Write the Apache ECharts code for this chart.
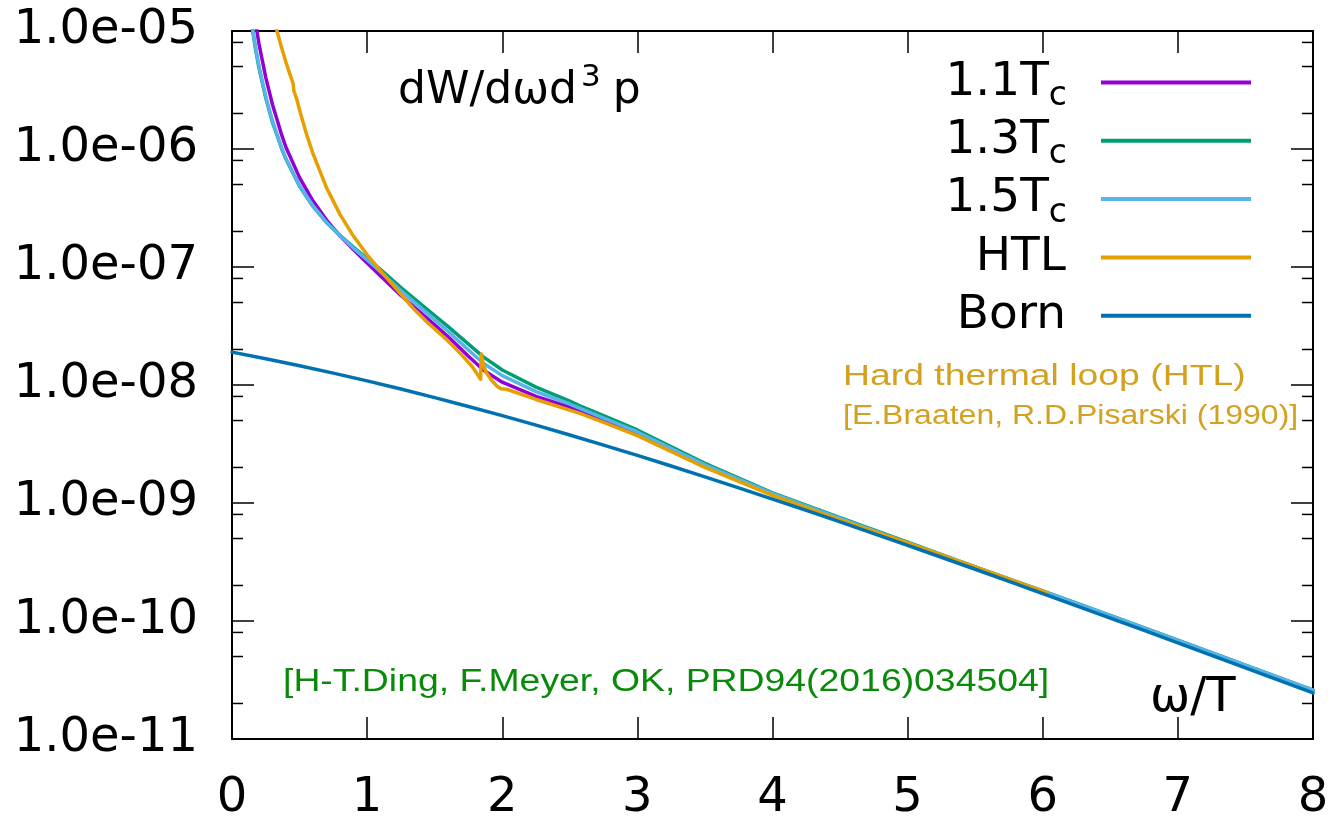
<!DOCTYPE html>
<html>
<head>
<meta charset="utf-8">
<script src="https://cdn.jsdelivr.net/npm/echarts@6/dist/echarts.min.js"></script>
<style>
  html, body { margin: 0; padding: 0; background: #fff; }
  #chart { width: 1339px; height: 817px; }
</style>
</head>
<body>
<div id="chart"></div>
<script>
// omega/T grid shared by the three lattice curves
const omegaLat = [0.15, 0.175, 0.2, 0.25, 0.3, 0.37, 0.4, 0.5, 0.6, 0.7, 0.8, 0.9, 1.0, 1.06, 1.1, 1.25, 1.5, 1.6, 1.75, 1.86, 2.0, 2.25, 2.5, 2.575, 2.75, 3.0, 3.5, 4.0, 4.5, 5.0, 5.5, 6.0, 6.5, 7.0, 7.5, 8.0];

// dilepton rate dW/dωd³p from the lattice spectral functions
const rate11 = [1.85e-5, 1.16e-5, 7.75e-6, 4.03e-6, 2.37e-6, 1.29e-6, 1.03e-6, 5.72e-7, 3.62e-7, 2.5e-7, 1.83e-7, 1.4e-7, 1.08e-7, 9.3e-8, 8.37e-8, 5.73e-8, 3.24e-8, 2.56e-8, 1.75e-8, 1.34e-8, 1.056e-8, 8.0e-9, 6.49e-9, 6.03e-9, 5.01e-9, 3.84e-9, 2.05e-9, 1.18e-9, 7.29e-10, 4.55e-10, 2.84e-10, 1.775e-10, 1.1e-10, 6.8e-11, 4.19e-11, 2.58e-11];
const rate13 = [1.057e-5, 6.95e-6, 4.85e-6, 2.7e-6, 1.68e-6, 9.9e-7, 8.18e-7, 4.84e-7, 3.26e-7, 2.38e-7, 1.85e-7, 1.47e-7, 1.18e-7, 1.04e-7, 9.5e-8, 6.68e-8, 3.88e-8, 3.12e-8, 2.22e-8, 1.73e-8, 1.34e-8, 9.6e-9, 7.31e-9, 6.67e-9, 5.49e-9, 4.16e-9, 2.17e-9, 1.22e-9, 7.51e-10, 4.65e-10, 2.88e-10, 1.8e-10, 1.115e-10, 6.87e-11, 4.22e-11, 2.6e-11];
const rate15 = [1.09e-5, 7.16e-6, 5.0e-6, 2.78e-6, 1.73e-6, 1.0e-6, 8.26e-7, 4.89e-7, 3.29e-7, 2.38e-7, 1.83e-7, 1.44e-7, 1.15e-7, 1.0e-7, 9.1e-8, 6.3e-8, 3.56e-8, 2.84e-8, 1.98e-8, 1.53e-8, 1.2e-8, 8.8e-9, 6.9e-9, 6.35e-9, 5.25e-9, 4.0e-9, 2.11e-9, 1.2e-9, 7.4e-10, 4.6e-10, 2.87e-10, 1.79e-10, 1.11e-10, 6.85e-11, 4.22e-11, 2.6e-11];

// hard thermal loop rate (own omega grid, with its structure near 0.46, 1.85 and 2)
const omegaHTL = [0.32, 0.333, 0.36, 0.4, 0.43, 0.452, 0.458, 0.481, 0.5, 0.55, 0.6, 0.7, 0.8, 0.9, 1.0, 1.1, 1.2, 1.342, 1.45, 1.589, 1.7, 1.78, 1.84, 1.845, 1.86, 1.88, 1.92, 1.96, 1.99, 2.033, 2.25, 2.575, 2.75, 3.0, 3.5, 4.0, 4.5, 5.0, 5.5, 6.03];
const rateHTL = [1.14e-5, 1.0e-5, 7.7e-6, 5.41e-6, 4.25e-6, 3.6e-6, 3.1e-6, 2.6e-6, 2.14e-6, 1.355e-6, 9.08e-7, 4.68e-7, 2.78e-7, 1.82e-7, 1.27e-7, 9.28e-8, 6.85e-8, 4.45e-8, 3.35e-8, 2.42e-8, 1.8e-8, 1.42e-8, 1.12e-8, 1.83e-8, 1.5e-8, 1.28e-8, 1.1e-8, 9.8e-9, 9.3e-9, 9.2e-9, 7.54e-9, 5.75e-9, 4.83e-9, 3.72e-9, 2.0e-9, 1.16e-9, 7.2e-10, 4.58e-10, 2.88e-10, 1.74e-10];

// free (Born) rate
const omegaBorn = [0, 0.25, 0.5, 0.75, 1.0, 1.25, 1.5, 1.75, 2.0, 2.25, 2.5, 2.75, 3.0, 3.25, 3.5, 3.75, 4.0, 4.25, 4.5, 4.75, 5.0, 5.25, 5.5, 5.75, 6.0, 6.25, 6.5, 6.75, 7.0, 7.25, 7.5, 7.75, 8.0];
const rateBorn = [1.9e-8, 1.67e-8, 1.457e-8, 1.261e-8, 1.083e-8, 9.24e-9, 7.82e-9, 6.58e-9, 5.5e-9, 4.565e-9, 3.77e-9, 3.095e-9, 2.53e-9, 2.057e-9, 1.666e-9, 1.344e-9, 1.08e-9, 8.65e-10, 6.91e-10, 5.5e-10, 4.37e-10, 3.468e-10, 2.745e-10, 2.168e-10, 1.709e-10, 1.346e-10, 1.059e-10, 8.32e-11, 6.53e-11, 5.12e-11, 4.01e-11, 3.142e-11, 2.46e-11];

// axes
const xTicks = [0, 1, 2, 3, 4, 5, 6, 7, 8];
const yDecades = [-11, -10, -9, -8, -7, -6, -5];
const minorMantissas = [2, 5, 8];

const seriesNames = ['1.1Tc', '1.3Tc', '1.5Tc', 'HTL', 'Born'];
const seriesColors = ['#9400d3', '#009e73', '#56b4e9', '#e69f00', '#0072b2'];

const zip = (xs, ys) => xs.map((x, i) => [x, ys[i]]);

const minorTicks = [];
yDecades.slice(0, -1).forEach(e => minorMantissas.forEach(m => minorTicks.push([0, m * Math.pow(10, e)])));

const FONT = 'DejaVu Sans';
const axisLineStyle = { color: '#000', width: 2 };
const tickStyle = { color: '#000', width: 1.5 };

const lineSeries = (name, color, data) => ({
  name, type: 'line', data, showSymbol: false, symbol: 'none',
  lineStyle: { color, width: 3.5, join: 'round', cap: 'round' }, itemStyle: { color }, clip: true,
  animation: false, z: 3
});

// every legend row carries a subscript-height token so all rows share one height
const legendLabels = {
  '1.1Tc': '{m|1.1T}{s|c}{sp| }',
  '1.3Tc': '{m|1.3T}{s|c}{sp| }',
  '1.5Tc': '{m|1.5T}{s|c}{sp| }',
  'HTL': '{m|HTL}{z| }{sp| }',
  'Born': '{m|Born}{z| }{sp| }'
};

const chart = echarts.init(document.getElementById('chart'), null, { renderer: 'canvas' });

chart.setOption({
  animation: false,
  backgroundColor: '#fff',
  grid: { left: 232, right: 26, top: 31, bottom: 78, containLabel: false, outerBoundsMode: 'none' },
  title: {
    text: '{a|dW/dωd}{b|3}{a|p}',
    left: 393, top: 57,
    textStyle: {
      fontWeight: 'normal',
      rich: {
        a: { fontFamily: FONT, fontSize: 44, fontWeight: 'normal', color: '#000', lineHeight: 52, verticalAlign: 'bottom' },
        b: { fontFamily: FONT, fontSize: 31, fontWeight: 'normal', color: '#000', lineHeight: 52, verticalAlign: 'top', padding: [0, 12, 0, 4] }
      }
    }
  },
  legend: {
    orient: 'vertical', right: 83, top: 54, align: 'right',
    itemWidth: 150, itemHeight: 4, itemGap: 4.3, icon: 'rect',
    data: seriesNames,
    formatter: name => legendLabels[name],
    textStyle: {
      fontFamily: FONT, fontSize: 47, color: '#000',
      rich: {
        m: { fontFamily: FONT, fontSize: 47, color: '#000', lineHeight: 48 },
        s: { fontFamily: FONT, fontSize: 33, color: '#000', height: 20, lineHeight: 20, verticalAlign: 'bottom' },
        z: { fontFamily: FONT, fontSize: 33, color: '#000', width: 1, height: 20, lineHeight: 20, verticalAlign: 'bottom' },
        sp: { width: 29, fontSize: 10, lineHeight: 48 }
      }
    }
  },
  xAxis: [
    {
      type: 'value', min: 0, max: 8, interval: 1, position: 'bottom',
      axisLine: { show: true, onZero: false, lineStyle: axisLineStyle },
      axisTick: { show: true, inside: true, length: 22, lineStyle: tickStyle },
      axisLabel: { fontFamily: FONT, fontSize: 48, color: '#000', margin: 36, formatter: v => String(v) },
      splitLine: { show: false }
    },
    {
      type: 'value', min: 0, max: 8, interval: 1, position: 'top',
      axisLine: { show: true, onZero: false, lineStyle: axisLineStyle },
      axisTick: { show: true, inside: true, length: 22, lineStyle: tickStyle },
      axisLabel: { show: false }, splitLine: { show: false }
    }
  ],
  yAxis: [
    {
      type: 'log', logBase: 10, min: 1e-11, max: 1e-5, position: 'left',
      axisLine: { show: true, onZero: false, lineStyle: axisLineStyle },
      axisTick: { show: true, inside: true, length: 22, lineStyle: tickStyle },
      axisLabel: {
        fontFamily: FONT, fontSize: 48, color: '#000', margin: 34, padding: [7, 0, 0, 0],
        formatter: v => {
          const e = Math.round(Math.log10(v));
          const a = Math.abs(e);
          return '1.0e' + (e < 0 ? '-' : '+') + (a < 10 ? '0' + a : String(a));
        }
      },
      splitLine: { show: false }
    },
    {
      type: 'log', logBase: 10, min: 1e-11, max: 1e-5, position: 'right',
      axisLine: { show: true, onZero: false, lineStyle: axisLineStyle },
      axisTick: { show: true, inside: true, length: 22, lineStyle: tickStyle },
      axisLabel: { show: false }, splitLine: { show: false }
    }
  ],
  graphic: [
    {
      type: 'text', x: 843, y: 377, z: 10,
      style: { text: 'Hard thermal loop (HTL)', font: '30px "Liberation Sans"', fill: '#d4a020', verticalAlign: 'middle' },
      scaleX: 1.245
    },
    {
      type: 'text', x: 843, y: 417, z: 10,
      style: { text: '[E.Braaten, R.D.Pisarski (1990)]', font: '27px "Liberation Sans"', fill: '#d4a020', verticalAlign: 'middle' },
      scaleX: 1.185
    },
    {
      type: 'text', x: 283, y: 682, z: 10,
      style: { text: '[H-T.Ding, F.Meyer, OK, PRD94(2016)034504]', font: '31px "Liberation Sans"', fill: '#0a8a0a', verticalAlign: 'middle' },
      scaleX: 1.205
    },
    {
      type: 'text', x: 1150, y: 699, z: 10,
      style: { text: 'ω/T', font: '48px "DejaVu Sans"', fill: '#000', verticalAlign: 'middle' }
    }
  ],
  series: [
    lineSeries(seriesNames[0], seriesColors[0], zip(omegaLat, rate11)),
    lineSeries(seriesNames[1], seriesColors[1], zip(omegaLat, rate13)),
    lineSeries(seriesNames[2], seriesColors[2], zip(omegaLat, rate15)),
    lineSeries(seriesNames[3], seriesColors[3], zip(omegaHTL, rateHTL)),
    lineSeries(seriesNames[4], seriesColors[4], zip(omegaBorn, rateBorn)),
    {
      // minor log ticks (2, 5, 8 per decade) on both vertical frame edges
      type: 'custom', silent: true, clip: false, z: 4,
      data: minorTicks,
      encode: { x: 0, y: 1 },
      renderItem: (params, api) => {
        const v = api.value(1);
        const l = api.coord([0, v]);
        const r = api.coord([8, v]);
        return {
          type: 'group',
          children: [
            { type: 'line', shape: { x1: l[0], y1: l[1], x2: l[0] + 11, y2: l[1] }, style: { stroke: '#000', lineWidth: 1.5 } },
            { type: 'line', shape: { x1: r[0] - 11, y1: r[1], x2: r[0], y2: r[1] }, style: { stroke: '#000', lineWidth: 1.5 } }
          ]
        };
      }
    }
  ]
});
</script>
</body>
</html>
